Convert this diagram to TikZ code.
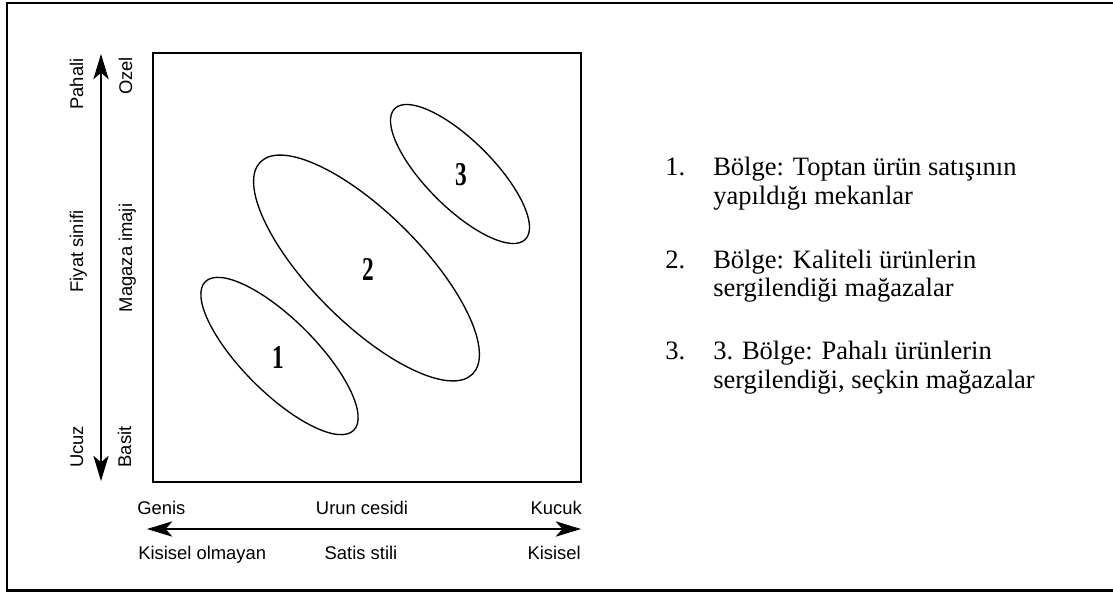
\documentclass[tikz,border=0pt]{standalone}
\usepackage{fontspec}
\setmainfont{Liberation Serif}
\newfontfamily\axfont{Liberation Sans}
\usetikzlibrary{arrows.meta}
\begin{document}
\begin{tikzpicture}[x=0.75pt,y=-0.75pt,
  ax/.style={font=\axfont\fontsize{13.8}{16}\selectfont, inner sep=0pt},
  vlab/.style={ax, rotate=90, anchor=base},
  desc/.style={font=\fontsize{19.9}{24}\selectfont, inner sep=0pt, anchor=base west},
  num/.style={font=\bfseries\fontsize{25}{28}\selectfont, xscale=0.7, inner sep=0pt},
  region/.style={line width=1pt},
  tipx/.tip={Stealth[length=19pt,width=11.5pt,inset=5pt]},
  axarrow/.style={line width=0.8pt, tipx-tipx}
]
\useasboundingbox (0,0) rectangle (1113,592);
% frame
\draw[line width=1.7pt] (1113,2.8) -- (7.2,2.8) -- (7.2,590.5) -- (1113,590.5);
% square
\draw[line width=1.1pt] (153,53) rectangle (581,482);
% ellipses
\draw[region, shift={(279.5,356)}, rotate=-45] (0,0) ellipse [x radius=105, y radius=36.6];
\draw[region, shift={(366.5,268)}, rotate=-45] (0,0) ellipse [x radius=150, y radius=54.7];
\draw[region, shift={(460,174)}, rotate=-45] (0,0) ellipse [x radius=92.4, y radius=33.5];
\node[num] (n1) at (278,357) {1};
\node[num] (n2) at (368,269) {2};
\node[num] (n3) at (461,175) {3};
% vertical axis
\coordinate (vtop) at (101,54);
\coordinate (vbot) at (101,481);
\draw[axarrow] (vbot) -- (vtop);
\node[vlab] (pahali) at (83,84) {Pahali};
\node[vlab] (fiyat) at (83,251.5) {Fiyat sinifi};
\node[vlab] (ucuz) at (83,447) {Ucuz};
\node[vlab] (ozel) at (132,76) {Ozel};
\node[vlab] (magaza) at (132,258) {Magaza imaji};
\node[vlab] (basit) at (131,447) {Basit};
% horizontal axis
\coordinate (hl) at (147,529);
\coordinate (hr) at (581,529);
\draw[axarrow] (hl) -- (hr);
\node[ax, anchor=base west] (genis) at (137,514) {Genis};
\node[ax, anchor=base] (urun) at (362,514) {Urun cesidi};
\node[ax, anchor=base east] (kucuk) at (582,514) {Kucuk};
\node[ax, anchor=base west] (kisol) at (138,559) {Kisisel olmayan};
\node[ax, anchor=base] (satis) at (361,559) {Satis stili};
\node[ax, anchor=base east] (kis) at (581,559) {Kisisel};
% legend
\node[desc] (i1) at (665,175) {1.};
\node[desc] (t1a) at (713,175) {Bölge: Toptan ürün satışının};
\node[desc] (t1b) at (713,204) {yapıldığı mekanlar};
\node[desc] (i2) at (665,268) {2.};
\node[desc] (t2a) at (713,268) {Bölge: Kaliteli ürünlerin};
\node[desc] (t2b) at (713,296) {sergilendiği mağazalar};
\node[desc] (i3) at (665,359) {3.};
\node[desc] (t3a) at (713,359) {3. Bölge: Pahalı ürünlerin};
\node[desc] (t3b) at (713,388) {sergilendiği, seçkin mağazalar};
\end{tikzpicture}
\end{document}
